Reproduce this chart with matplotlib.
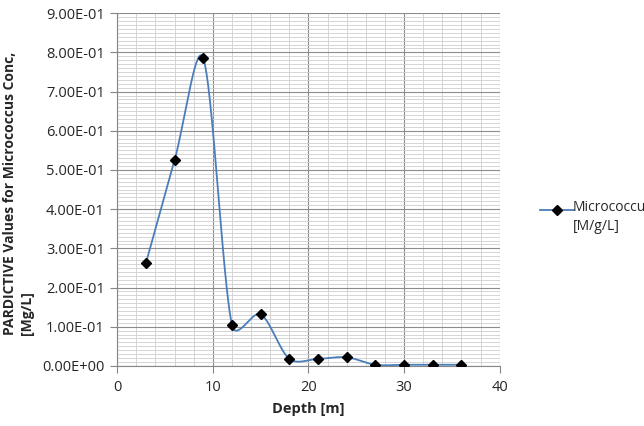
import numpy as np
import matplotlib.pyplot as plt
from matplotlib.ticker import MultipleLocator

plt.rcParams['font.family'] = ['Open Sans', 'DejaVu Sans']

depth = np.array([3, 6, 9, 12, 15, 18, 21, 24, 27, 30, 33, 36])
conc = np.array([0.262, 0.525, 0.785, 0.105, 0.132, 0.018, 0.018, 0.022,
                 0.003, 0.003, 0.003, 0.003])
series_name = 'Micrococcus\n[M/g/L]'
x_label = 'Depth [m]'
y_label = 'PARDICTIVE Values for Micrococcus Conc,\n[Mg/L]'


def excel_smooth(x, y, sx=9.6, sy=392.0, n=40):
    # bezier smoothing similar to excel's "smoothed line",
    # control arms damped when neighbouring segments differ a lot (screen units)
    P = np.column_stack([x * sx, y * sy])
    P = np.vstack([P[0], P, P[-1]])
    out = []
    t = np.linspace(0, 1, n)[:, None]

    def arm(d_here, d_other):
        if d_here + d_other == 0:
            return 0
        r = min(1.0, 2 * d_here / (d_here + d_other))
        return r ** 0.5 / 6

    for i in range(1, len(P) - 2):
        p_prev, p0, p3, p_next = P[i - 1], P[i], P[i + 1], P[i + 2]
        d_a = np.hypot(*(p0 - p_prev))
        d_b = np.hypot(*(p3 - p0))
        d_c = np.hypot(*(p_next - p3))
        c1 = p0 + (p3 - p_prev) * arm(d_b, d_a)
        c2 = p3 - (p_next - p0) * arm(d_b, d_c)
        b = (1 - t) ** 3 * p0 + 3 * (1 - t) ** 2 * t * c1 + 3 * (1 - t) * t ** 2 * c2 + t ** 3 * p3
        out.append(b)
    out = np.vstack(out)
    return out[:, 0] / sx, out[:, 1] / sy


fig = plt.figure(figsize=(6.44, 4.26), dpi=100)
ax = fig.add_axes([0.182, 0.141, 0.594, 0.828])

sx, sy = excel_smooth(depth, conc)
ax.plot(sx, sy, color='#4a7ebb', lw=1.3, zorder=3)
ax.plot(depth, conc, ls='none', marker='D', ms=5, color='black', zorder=4)

ax.set_xlim(0, 40)
ax.set_ylim(0, 0.9)
ax.xaxis.set_major_locator(MultipleLocator(10))
ax.xaxis.set_minor_locator(MultipleLocator(2))
ax.yaxis.set_major_locator(MultipleLocator(0.1))
ax.yaxis.set_minor_locator(MultipleLocator(0.01))
ax.yaxis.set_major_formatter(lambda v, p: '%.2E' % v)

ax.grid(which='major', color='#8c8c8c', lw=0.8)
ax.grid(which='minor', color='#cfcfcf', lw=0.6)
ax.set_axisbelow(True)
for s in ['top', 'right']:
    ax.spines[s].set_visible(False)
for s in ['left', 'bottom']:
    ax.spines[s].set_color('#868686')
ax.tick_params(which='major', length=5, color='#868686', labelsize=10.5, colors='#262626')
ax.tick_params(which='minor', length=0)
ax.tick_params(axis='x', pad=5)
ax.tick_params(axis='y', pad=4)

ax.set_xlabel(x_label, fontsize=10.5, fontweight='bold', color='#262626', labelpad=5)
fig.text(0.004, 0.545, y_label, rotation=90, ha='left', va='center',
         fontsize=10, fontweight='bold', color='#262626', linespacing=1.3)

# legend
fig.lines.append(plt.Line2D([0.838, 0.892], [0.507, 0.507], color='#4a7ebb', lw=1.3,
                            transform=fig.transFigure))
fig.lines.append(plt.Line2D([0.865], [0.507], color='black', marker='D', ms=5,
                            transform=fig.transFigure))
fig.text(0.889, 0.530, series_name, ha='left', va='top', fontsize=10, color='#262626',
         transform=fig.transFigure, linespacing=1.3)

fig.savefig('out.png', dpi=100)
